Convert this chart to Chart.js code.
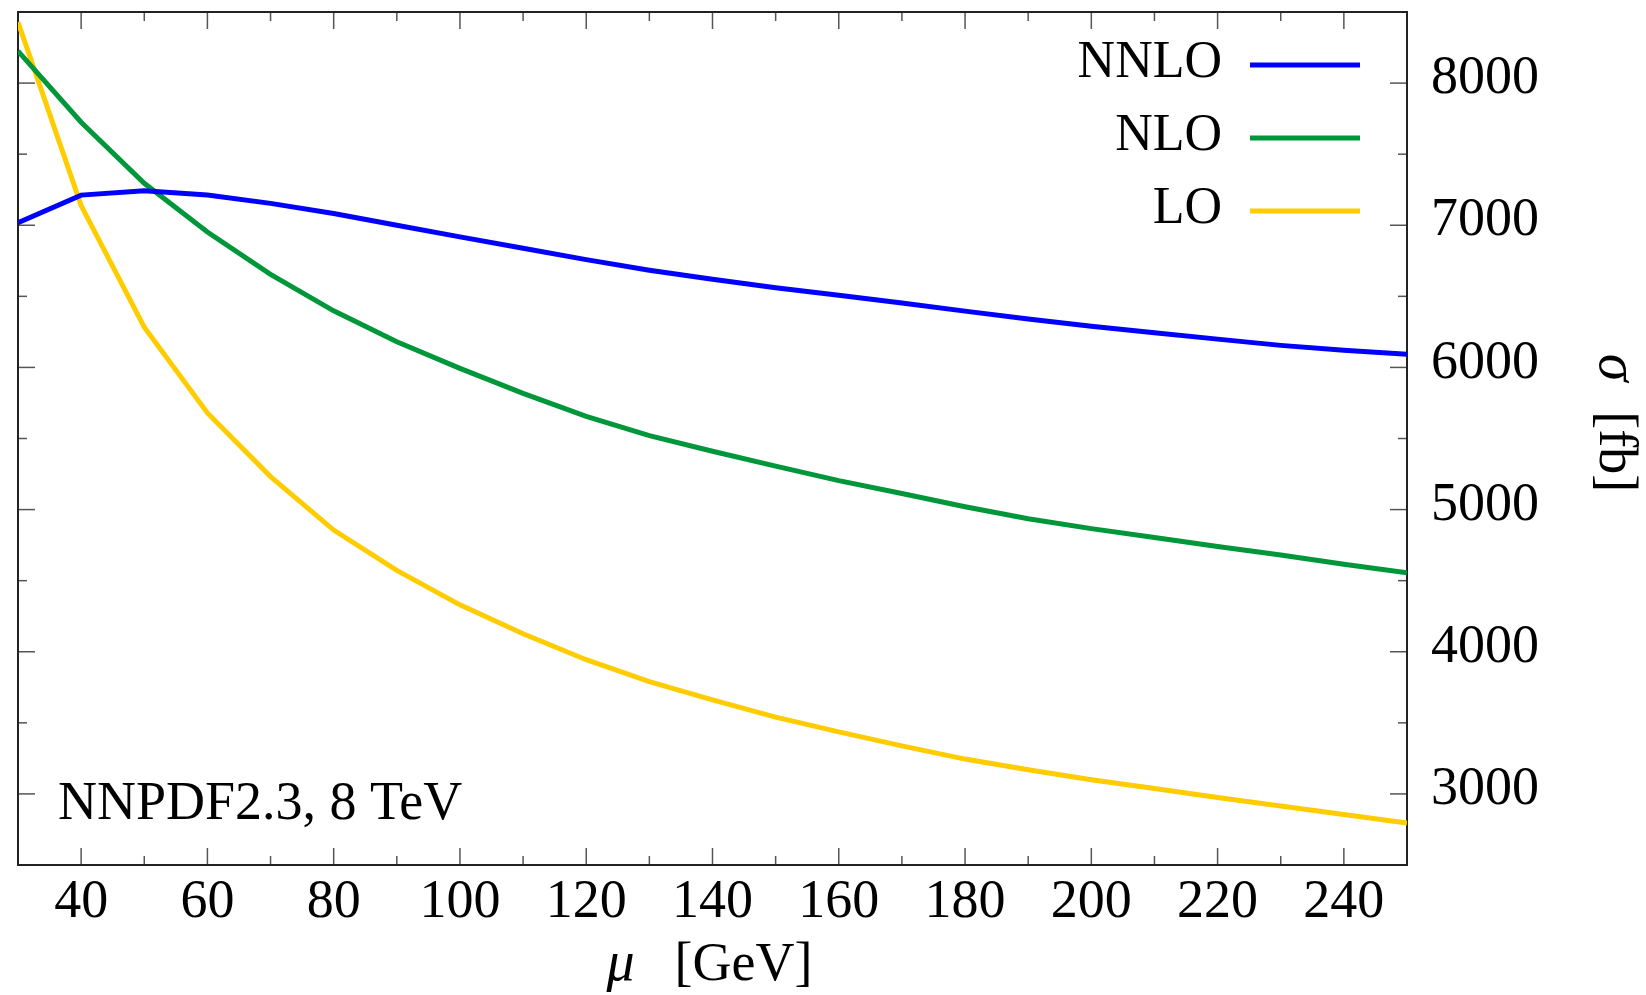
<!DOCTYPE html>
<html>
<head>
<meta charset="utf-8">
<title>Scale dependence of sigma</title>
<script src="https://cdn.jsdelivr.net/npm/chart.js@4.4.1/dist/chart.umd.min.js"></script>
<style>
  html, body { margin: 0; padding: 0; background: #fff; }
  canvas { display: block; }
</style>
</head>
<body>
<canvas id="sigmaChart" width="1646" height="995"></canvas>
<script>
// scale mu in GeV
const mu = [30, 40, 50, 60, 70, 80, 90, 100, 110, 120, 130, 140, 150, 160, 170, 180, 190, 200, 210, 220, 230, 240, 250];

// sigma in fb
const nnlo = [7017, 7212, 7242, 7212, 7154, 7083, 7000, 6918, 6838, 6758, 6684, 6620, 6560, 6507, 6453, 6396, 6340, 6290, 6244, 6199, 6155, 6120, 6092];
const nlo = [8225, 7725, 7295, 6952, 6655, 6398, 6180, 5993, 5817, 5655, 5520, 5410, 5306, 5204, 5113, 5020, 4935, 4866, 4803, 4741, 4680, 4615, 4556];
const lo = [8430, 7138, 6283, 5680, 5232, 4856, 4572, 4330, 4127, 3944, 3790, 3662, 3540, 3436, 3338, 3245, 3170, 3100, 3038, 2975, 2915, 2855, 2795];

const seriesNames = ['NNLO', 'NLO', 'LO'];
const seriesColors = ['#0000ff', '#00963a', '#ffcc00'];

const xMajor = [40, 60, 80, 100, 120, 140, 160, 180, 200, 220, 240];
const xMinor = [50, 70, 90, 110, 130, 150, 170, 190, 210, 230];
const yMajor = [3000, 4000, 5000, 6000, 7000, 8000];
const yMinor = [3500, 4500, 5500, 6500, 7500];

const note = 'NNPDF2.3, 8 TeV';
const serif = "'Liberation Serif', 'DejaVu Serif', serif";

const toPoints = vals => mu.map((m, i) => ({ x: m, y: vals[i] }));

// frame with inward ticks on all four sides
const frameAndTicks = {
  id: 'frameAndTicks',
  beforeDatasetsDraw(chart) {
    const { ctx, chartArea: a, scales: { x, y } } = chart;
    const seg = (x1, y1, x2, y2) => { ctx.beginPath(); ctx.moveTo(x1, y1); ctx.lineTo(x2, y2); ctx.stroke(); };
    ctx.save();
    ctx.strokeStyle = '#555';
    ctx.lineWidth = 1.5;
    const xt = (v, len) => {
      const px = x.getPixelForValue(v);
      seg(px, a.bottom, px, a.bottom - len);
      seg(px, a.top, px, a.top + len);
    };
    const yt = (v, len) => {
      const py = y.getPixelForValue(v);
      seg(a.left, py, a.left + len, py);
      seg(a.right, py, a.right - len, py);
    };
    xMajor.forEach(v => xt(v, 17));
    xMinor.forEach(v => xt(v, 9));
    yMajor.forEach(v => yt(v, 17));
    yMinor.forEach(v => yt(v, 9));
    ctx.strokeStyle = '#222';
    ctx.lineWidth = 2;
    ctx.strokeRect(a.left, a.top, a.width, a.height);
    ctx.restore();
  }
};

// legend (text left of the line), note and axis titles
const extras = {
  id: 'extras',
  afterDraw(chart) {
    const { ctx, chartArea: a } = chart;
    ctx.save();
    ctx.fillStyle = '#000';

    ctx.font = '52px ' + serif;
    ctx.textAlign = 'right';
    ctx.textBaseline = 'alphabetic';
    chart.data.datasets.forEach((ds, i) => {
      const rowY = a.top + 53 + i * 73;
      ctx.fillText(ds.label, a.right - 185, rowY + 12);
      ctx.strokeStyle = ds.borderColor;
      ctx.lineWidth = 5;
      ctx.beginPath();
      ctx.moveTo(a.right - 157, rowY);
      ctx.lineTo(a.right - 47, rowY);
      ctx.stroke();
    });

    ctx.font = '54px ' + serif;
    ctx.textAlign = 'left';
    ctx.fillText(note, a.left + 40, a.bottom - 46);

    // x title: italic mu, then [GeV]
    const muFont = 'italic 56px ' + serif;
    const unitFont = '54px ' + serif;
    ctx.font = muFont;
    const wMu = ctx.measureText('\u03bc').width;
    ctx.font = unitFont;
    const gap = 40;
    const wUnit = ctx.measureText('[GeV]').width;
    let sx = (a.left + a.right) / 2 - 3 - (wMu + gap + wUnit) / 2;
    ctx.font = muFont;
    ctx.fillText('\u03bc', sx, 980);
    ctx.font = unitFont;
    ctx.fillText('[GeV]', sx + wMu + gap, 980);

    // y title, rotated clockwise: sigma [fb]
    ctx.translate(1600, 423);
    ctx.rotate(Math.PI / 2);
    ctx.font = muFont;
    const wSig = ctx.measureText('\u03c3').width;
    ctx.font = unitFont;
    const wFb = ctx.measureText('[fb]').width;
    sx = -(wSig + 30 + wFb) / 2;
    ctx.font = muFont;
    ctx.fillText('\u03c3', sx, 0);
    ctx.font = unitFont;
    ctx.fillText('[fb]', sx + wSig + 30, 0);
    ctx.restore();
  }
};

new Chart(document.getElementById('sigmaChart'), {
  type: 'line',
  data: {
    datasets: [
      { label: seriesNames[0], data: toPoints(nnlo), borderColor: seriesColors[0] },
      { label: seriesNames[1], data: toPoints(nlo), borderColor: seriesColors[1] },
      { label: seriesNames[2], data: toPoints(lo), borderColor: seriesColors[2] }
    ]
  },
  options: {
    responsive: false,
    animation: false,
    devicePixelRatio: 1,
    layout: { padding: { left: 18, top: 12, right: 0, bottom: 0 } },
    elements: {
      point: { radius: 0 },
      line: { borderWidth: 5, tension: 0, fill: false }
    },
    plugins: {
      legend: { display: false },
      tooltip: { enabled: false }
    },
    scales: {
      x: {
        type: 'linear',
        position: 'bottom',
        min: 30,
        max: 250,
        afterBuildTicks: s => { s.ticks = xMajor.map(v => ({ value: v })); },
        afterFit: s => { s.height = 130; s.paddingLeft = 0; s.paddingRight = 0; },
        grid: { display: false },
        border: { display: false },
        ticks: {
          font: { family: serif, size: 54 },
          color: '#000',
          padding: -3,
          maxRotation: 0,
          autoSkip: false,
          callback: v => String(v)
        }
      },
      y: {
        type: 'linear',
        position: 'right',
        min: 2500,
        max: 8500,
        afterBuildTicks: s => { s.ticks = yMajor.map(v => ({ value: v })); },
        afterFit: s => { s.width = 239; s.paddingTop = 0; s.paddingBottom = 0; },
        grid: { display: false },
        border: { display: false },
        ticks: {
          font: { family: serif, size: 54 },
          color: '#000',
          padding: 16,
          labelOffset: -4,
          callback: v => String(v)
        }
      }
    }
  },
  plugins: [frameAndTicks, extras]
});
</script>
</body>
</html>
